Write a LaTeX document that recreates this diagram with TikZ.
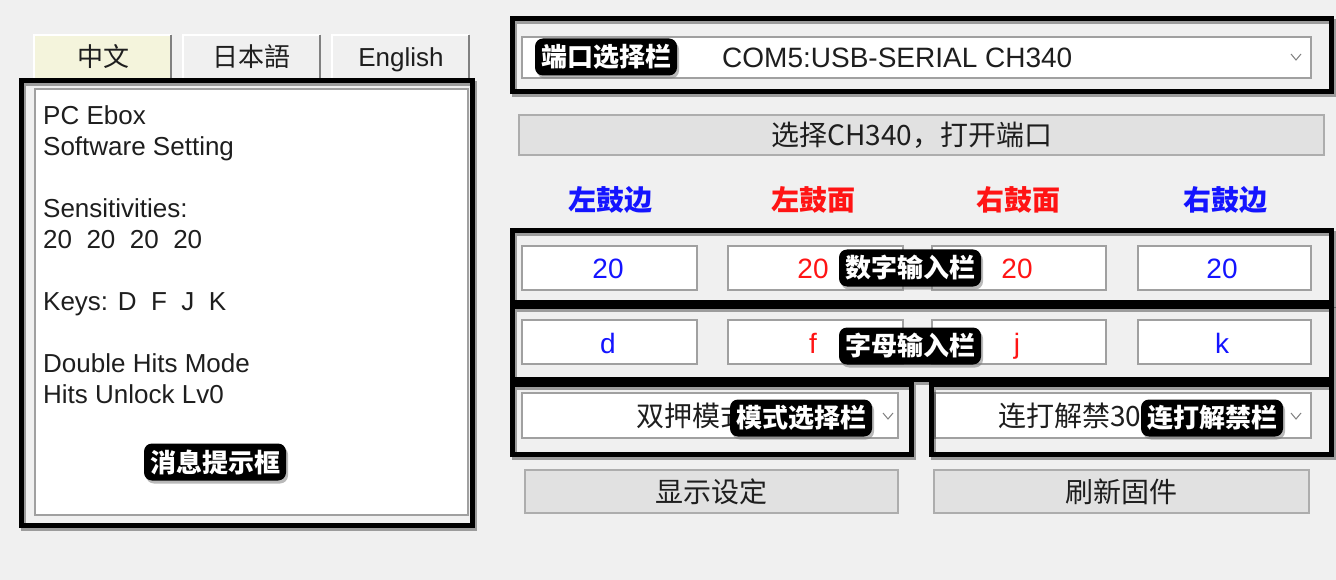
\documentclass[tikz,border=0pt]{standalone}
\usepackage{fontspec}
\setmainfont{Liberation Sans}
\newfontfamily\cjk{Noto Sans CJK SC}
\usetikzlibrary{shadows}
\definecolor{bg}{HTML}{F0F0F0}
\definecolor{btn}{HTML}{E1E1E1}
\definecolor{btnborder}{HTML}{ADADAD}
\definecolor{boxborder}{HTML}{A0A0A0}
\definecolor{tabsel}{HTML}{F4F4DC}
\definecolor{uitext}{HTML}{1E1E1E}
\definecolor{myblue}{HTML}{1414FF}
\definecolor{myred}{HTML}{FF1414}
\newcommand\uiLatin{\fontsize{26}{31}\selectfont}
\newcommand\uiCJK{\cjk\fontsize{28}{33}\selectfont}
\tikzset{
  inbox/.style={draw=boxborder, fill=white, line width=1.2pt},
  button/.style={draw=btnborder, fill=btn, line width=1.2pt},
  frameshadow/.style={draw=black, opacity=0.35, line width=5pt},
  frameline/.style={draw=black, line width=5pt},
  lab/.style={fill=black, text=white, rounded corners=8pt,
    font=\cjk\bfseries\fontsize{26}{30}\selectfont,
    inner xsep=6pt, inner ysep=0pt, minimum height=37pt,
    drop shadow={shadow xshift=2pt, shadow yshift=-3pt, opacity=0.55}},
  lefttxt/.style={anchor=base west, inner sep=0pt, text=uitext, font=\uiLatin},
  ui/.style={inner sep=0pt, text=uitext},
  chev/.style={draw=gray, line width=1pt}
}
\begin{document}
\begin{tikzpicture}[x=1pt,y=-1pt]
\useasboundingbox (0,0) rectangle (1336,580);
\fill[bg] (0,0) rectangle (1336,580);

% ---- tabs
\fill[tabsel] (34,35) rectangle (171,79);
\draw[white, line width=1.5pt] (34,79) -- (34,35) -- (171,35);
\draw[gray, line width=2pt] (171,35) -- (171,79);
\fill[bg] (183,35) rectangle (320,79);
\draw[white, line width=1.5pt] (183,79) -- (183,35) -- (320,35);
\draw[gray, line width=2pt] (320,35) -- (320,79);
\fill[bg] (332,35) rectangle (469,79);
\draw[white, line width=1.5pt] (332,79) -- (332,35) -- (469,35);
\draw[gray, line width=2pt] (469,35) -- (469,79);
\node[ui, font=\cjk\fontsize{26}{30}\selectfont] (tabzh) at (103,57) {中文};
\node[ui, font=\cjk\fontsize{26}{30}\selectfont] (tabja) at (251,57) {日本語};
\node[ui, anchor=base, font=\uiLatin] (taben) at (401,67) {English};

% ---- message box
\draw[inbox] (35,89) rectangle (468,515);
\node[lefttxt] (l1) at (43,125) {PC Ebox};
\node[lefttxt] (l2) at (43,156) {Software Setting};
\node[lefttxt] (l3) at (43,218) {Sensitivities:};
\node[lefttxt] (l4) at (43,248) {20\ \ 20\ \ 20\ \ 20};
\node[lefttxt] (l5) at (43,310) {Keys: D\ \ F\ \ J\ \ K};
\node[lefttxt] (l6) at (43,372) {Double Hits Mode};
\node[lefttxt] (l7) at (43,403) {Hits Unlock Lv0};

% ---- port combo + button
\draw[inbox] (522,37) rectangle (1311,78);
\node[ui, anchor=west, font=\fontsize{28}{33}\selectfont] (port) at (722,58) {COM5:USB-SERIAL CH340};
\draw[chev] (1291,54) -- (1296,60) -- (1301,54);
\draw[button] (519,115) rectangle (1324,155);
\node[ui, font=\cjk\fontsize{28}{33}\selectfont] (openbtn) at (912,135) {选择CH340，打开端口};

% ---- column headers
\node[ui, text=myblue, font=\cjk\bfseries\fontsize{28}{32}\selectfont] (h1) at (610,200) {左鼓边};
\node[ui, text=myred, font=\cjk\bfseries\fontsize{28}{32}\selectfont] (h2) at (813,200) {左鼓面};
\node[ui, text=myred, font=\cjk\bfseries\fontsize{28}{32}\selectfont] (h3) at (1018,200) {右鼓面};
\node[ui, text=myblue, font=\cjk\bfseries\fontsize{28}{32}\selectfont] (h4) at (1225,200) {右鼓边};

% ---- number inputs
\draw[inbox] (522,246) rectangle (697,290);
\draw[inbox] (728,246) rectangle (903,290);
\draw[inbox] (932,246) rectangle (1106,290);
\draw[inbox] (1138,246) rectangle (1311,290);
\node[ui, text=myblue, font=\fontsize{28}{32}\selectfont] (n1) at (608,269) {20};
\node[ui, text=myred, font=\fontsize{28}{32}\selectfont] (n2) at (813,269) {20};
\node[ui, text=myred, font=\fontsize{28}{32}\selectfont] (n3) at (1017,269) {20};
\node[ui, text=myblue, font=\fontsize{28}{32}\selectfont] (n4) at (1222,269) {20};

% ---- letter inputs
\draw[inbox] (522,320) rectangle (697,364);
\draw[inbox] (728,320) rectangle (903,364);
\draw[inbox] (932,320) rectangle (1106,364);
\draw[inbox] (1138,320) rectangle (1311,364);
\node[ui, anchor=base, text=myblue, font=\fontsize{28}{32}\selectfont] (k1) at (608,353) {d};
\node[ui, anchor=base, text=myred, font=\fontsize{28}{32}\selectfont] (k2) at (813,353) {f};
\node[ui, anchor=base, text=myred, font=\fontsize{28}{32}\selectfont] (k3) at (1017,353) {j};
\node[ui, anchor=base, text=myblue, font=\fontsize{28}{32}\selectfont] (k4) at (1222,353) {k};

% ---- mode combos
\draw[inbox] (522,393) rectangle (898,438);
\node[ui, anchor=west, font=\uiCJK] (mode) at (636,416) {双押模式};
\draw[chev] (883,413) -- (888,419) -- (893,413);
\draw[inbox] (935,393) rectangle (1311,438);
\node[ui, anchor=west, font=\uiCJK] (unlock) at (998,416) {连打解禁30};
\draw[chev] (1291,413) -- (1296,419) -- (1301,413);

% ---- bottom buttons
\draw[button] (525,470) rectangle (898,513);
\node[ui, font=\uiCJK] (show) at (711,492) {显示设定};
\draw[button] (934,470) rectangle (1309,513);
\node[ui, font=\uiCJK] (flash) at (1121,492) {刷新固件};

% ---- annotation frames (shadow then frame)
\begin{scope}[shift={(2,3)}]
\draw[frameshadow] (21,81) rectangle (472,525);
\draw[frameshadow] (512,19) rectangle (1331,92);
\draw[frameshadow] (512,231) rectangle (1331,302);
\draw[frameshadow] (512,306) rectangle (1331,379);
\draw[frameshadow] (512,384) rectangle (911,454);
\draw[frameshadow] (931,384) rectangle (1331,454);
\end{scope}
\draw[frameline] (21,81) rectangle (472,525);
\draw[frameline] (512,19) rectangle (1331,92);
\draw[frameline] (512,231) rectangle (1331,302);
\draw[frameline] (512,306) rectangle (1331,379);
\draw[frameline] (512,384) rectangle (911,454);
\draw[frameline] (931,384) rectangle (1331,454);

% ---- annotation labels
\node[lab] (labmsg) at (215,462) {消息提示框};
\node[lab] (labport) at (606,57) {端口选择栏};
\node[lab] (labnum) at (910,268) {数字输入栏};
\node[lab] (lablet) at (910,346) {字母输入栏};
\node[lab] (labmode) at (801,418) {模式选择栏};
\node[lab] (labunlock) at (1212,418) {连打解禁栏};
\end{tikzpicture}
\end{document}
